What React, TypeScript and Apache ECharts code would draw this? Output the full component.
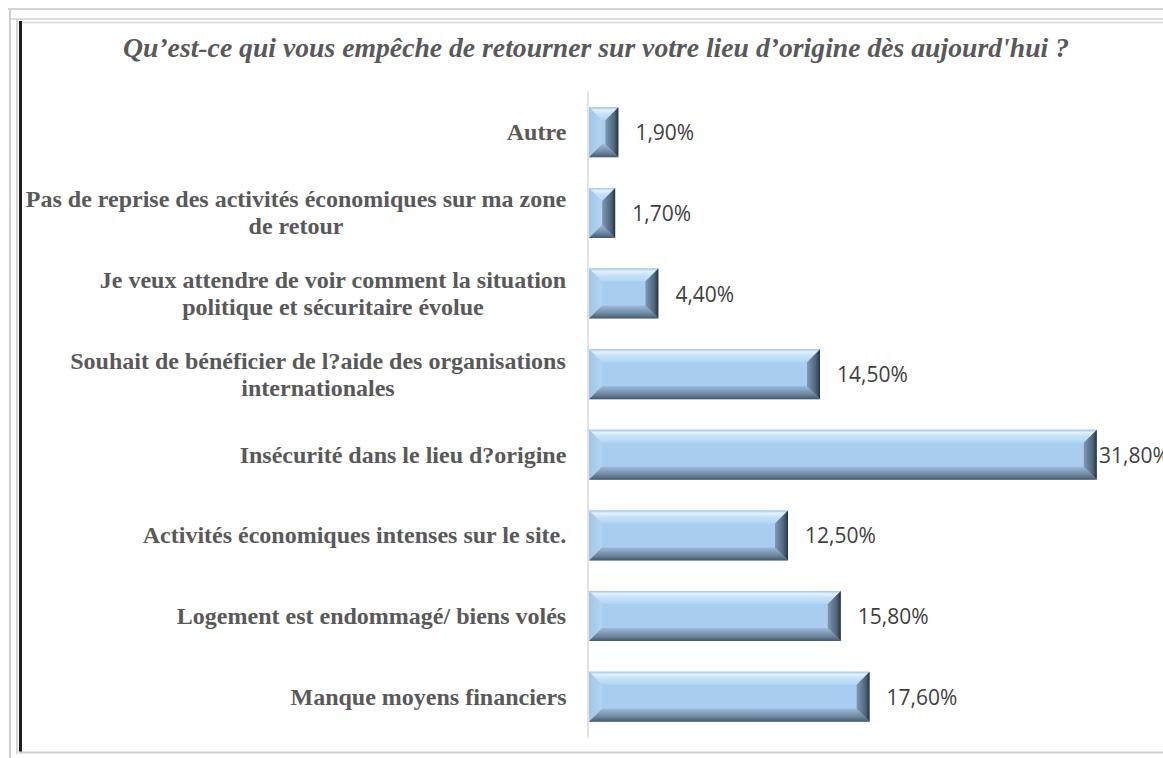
import React, { useEffect, useRef } from "react";
import * as echarts from "echarts";

const titleText = "Qu’est-ce qui vous empêche de retourner sur votre lieu d’origine dès aujourd'hui ?";
const categories = [
  "Autre",
  "Pas de reprise des activités économiques sur ma zone\nde retour",
  "Je veux attendre de voir comment la situation\npolitique et sécuritaire évolue",
  "Souhait de bénéficier de l?aide des organisations\ninternationales",
  "Insécurité dans le lieu d?origine",
  "Activités économiques intenses sur le site.",
  "Logement est endommagé/ biens volés",
  "Manque moyens financiers",
];
const values = [1.9, 1.7, 4.4, 14.5, 31.8, 12.5, 15.8, 17.6];

const LABEL_FONT_SIZE = 24;
const LABEL_FONT = `bold ${LABEL_FONT_SIZE}px "Liberation Serif"`;

function measure(text: string): number {
  const c = document.createElement("canvas").getContext("2d");
  if (!c) return text.length * 11;
  c.font = LABEL_FONT;
  return c.measureText(text).width;
}

export default function App() {
  const ref = useRef<HTMLDivElement>(null);
  useEffect(() => {
    if (!ref.current) return;
    const chart = echarts.init(ref.current, undefined, { renderer: "svg" });

    const rich: Record<string, any> = {};
    categories.forEach((c, i) => {
      const w = Math.max(...c.split("\n").map(measure));
      rich["l" + i] = {
        width: Math.ceil(w) + 1,
        align: "center",
        fontFamily: "Liberation Serif",
        fontWeight: "bold",
        fontSize: LABEL_FONT_SIZE,
        color: "#595959",
        lineHeight: 27,
      };
    });

    const grad = (x1: number, y1: number, x2: number, y2: number, stops: [number, string][]) =>
      new echarts.graphic.LinearGradient(
        x1, y1, x2, y2,
        stops.map(([offset, color]) => ({ offset, color }))
      );

    const option: any = {
      animation: false,
      backgroundColor: "#ffffff",
      title: {
        text: titleText,
        left: 591,
        top: 28,
        textAlign: "center",
        textStyle: {
          fontFamily: "Liberation Serif",
          fontStyle: "italic",
          fontWeight: "bold",
          fontSize: 27.7,
          color: "#595959",
        },
      },
      grid: { left: 588, top: 92, width: 560, height: 645 },
      xAxis: { type: "value", min: 0, max: 35, show: false },
      yAxis: {
        type: "category",
        data: categories,
        inverse: true,
        axisLine: { show: true, lineStyle: { color: "#d9d9d9", width: 1.5 } },
        axisTick: { show: false },
        splitLine: { show: false },
        axisLabel: {
          margin: 21,
          align: "right",
          rich,
          formatter: (value: string, index: number) =>
            value.split("\n").map((l) => `{l${index}|${l}}`).join("\n"),
        },
      },
      series: [
        {
          type: "custom",
          encode: { x: 0, y: 1 },
          data: values.map((v, i) => [v, i]),
          renderItem: (params: any, api: any) => {
            const v = api.value(0);
            const cat = api.value(1);
            const s = api.coord([0, cat]);
            const e = api.coord([v, cat]);
            const h = 50;
            const x0 = s[0] + 1;
            const x1 = e[0];
            const y0 = s[1] - h / 2;
            const y1 = s[1] + h / 2;
            const w = x1 - x0;
            const bx = Math.min(13, w / 2);
            const by = 13;
            const label = v.toFixed(2).replace(".", ",") + "%";
            return {
              type: "group",
              children: [
                {
                  type: "rect",
                  shape: { x: x0, y: y0, width: w, height: h },
                  style: { fill: "#a9cdf0" },
                },
                {
                  type: "polygon",
                  shape: { points: [[x0, y0], [x1, y0], [x1 - bx, y0 + by], [x0 + bx, y0 + by]] },
                  style: {
                    fill: grad(0, 0, 0, 1, [[0, "#9fc3e6"], [0.2, "#e2f2fd"], [0.5, "#c6e2f8"], [1, "#b3d5f3"]]),
                  },
                },
                {
                  type: "polygon",
                  shape: { points: [[x0, y0], [x0 + bx, y0 + by], [x0 + bx, y1 - by], [x0, y1]] },
                  style: { fill: grad(0, 0, 1, 0, [[0, "#a4c6e6"], [1, "#b2d3f1"]]) },
                },
                {
                  type: "polygon",
                  shape: { points: [[x0, y1], [x1, y1], [x1 - bx, y1 - by], [x0 + bx, y1 - by]] },
                  style: {
                    fill: grad(0, 0, 0, 1, [[0, "#9cbad8"], [0.6, "#6f88a2"], [1, "#46596c"]]),
                  },
                },
                {
                  type: "polygon",
                  shape: { points: [[x1, y0], [x1 - bx, y0 + by], [x1 - bx, y1 - by], [x1, y1]] },
                  style: {
                    fill: grad(0, 0, 1, 0, [[0, "#7d99b5"], [0.7, "#4d6378"], [1, "#26323e"]]),
                  },
                },
                {
                  type: "text",
                  x: Math.min(x1 + 17, 1099),
                  y: s[1],
                  style: {
                    text: label,
                    fill: "#404040",
                    fontFamily: "Open Sans",
                    fontSize: 21,
                    align: "left",
                    verticalAlign: "middle",
                  },
                },
              ],
            };
          },
        },
      ],
      graphic: [
        { type: "line", shape: { x1: 8, y1: 9, x2: 1163, y2: 9 }, style: { stroke: "#d4d4d4", lineWidth: 2 } },
        { type: "line", shape: { x1: 10, y1: 19, x2: 1163, y2: 19 }, style: { stroke: "#cfcfcf", lineWidth: 1.5 } },
        { type: "line", shape: { x1: 18, y1: 22.5, x2: 1163, y2: 22.5 }, style: { stroke: "#d8d8d8", lineWidth: 1.5 } },
        { type: "line", shape: { x1: 10, y1: 9, x2: 10, y2: 758 }, style: { stroke: "#cfcfcf", lineWidth: 2 } },
        { type: "line", shape: { x1: 17, y1: 19, x2: 17, y2: 754 }, style: { stroke: "#c8c8c8", lineWidth: 1.5 } },
        { type: "line", shape: { x1: 20.5, y1: 21, x2: 20.5, y2: 752 }, style: { stroke: "#1e1e1e", lineWidth: 3 } },
        { type: "line", shape: { x1: 19, y1: 752.5, x2: 1163, y2: 752.5 }, style: { stroke: "#d0d0d0", lineWidth: 2 } },
      ],
    };
    chart.setOption(option);
    return () => chart.dispose();
  }, []);
  return (
    <div
      ref={ref}
      style={{ position: "fixed", left: 0, top: 0, width: 1163, height: 758, background: "#fff" }}
    />
  );
}
